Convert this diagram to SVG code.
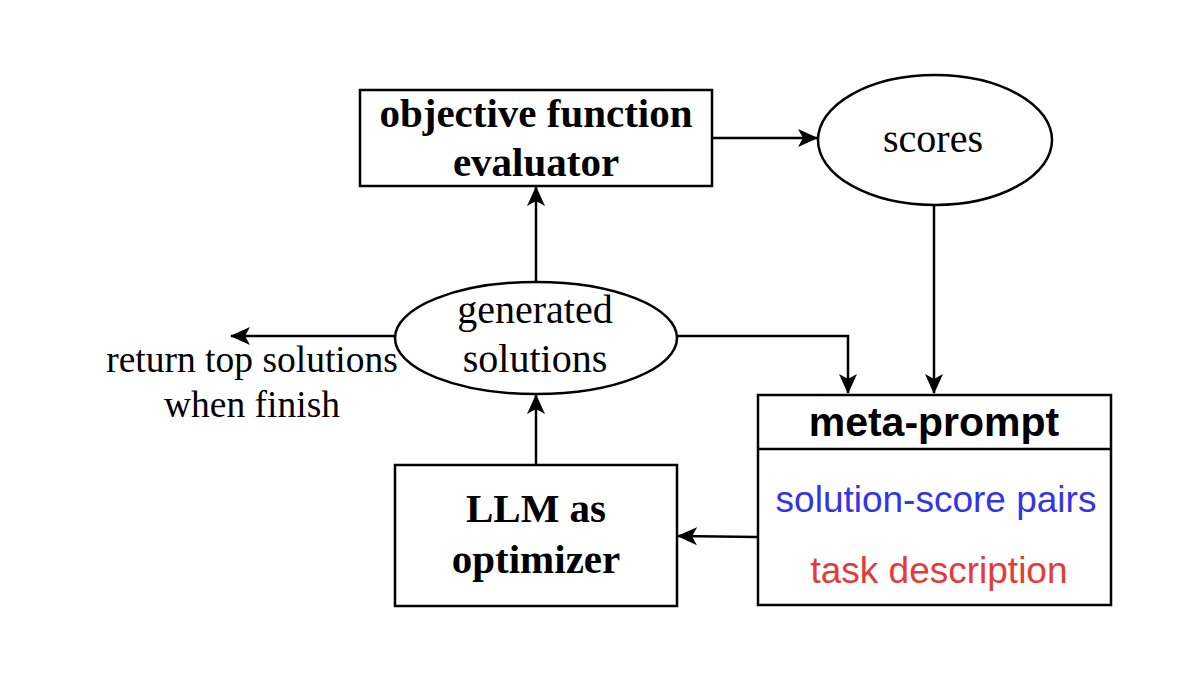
<svg xmlns="http://www.w3.org/2000/svg" width="1200" height="677" viewBox="0 0 1200 677">
<style>
.shape{fill:#fff;stroke:#000;stroke-width:2.5}
.conn{fill:none;stroke:#000;stroke-width:2.5}
.serif{font-family:"Liberation Serif","Times New Roman",serif;fill:#000;text-anchor:middle}
.bold{font-weight:bold}
.sans{font-family:"Liberation Sans",Arial,sans-serif;text-anchor:middle}
</style>
<defs>
<marker id="arr" viewBox="0 0 20 18" refX="19" refY="9" markerWidth="20" markerHeight="18" markerUnits="userSpaceOnUse" orient="auto">
<path d="M0,0 L20,9 L0,18 L5,9 z" fill="#000"/>
</marker>
</defs>
<rect width="1200" height="677" fill="#fff"/>
<g id="connectors">
<path class="conn" d="M712,138 L817,138" marker-end="url(#arr)"/>
<path class="conn" d="M934,206 L934,393" marker-end="url(#arr)"/>
<path class="conn" d="M536,282 L536,187" marker-end="url(#arr)"/>
<path class="conn" d="M677,336 L848,336 L848,393" marker-end="url(#arr)"/>
<path class="conn" d="M395,336 L231,336" marker-end="url(#arr)"/>
<path class="conn" d="M536,465 L536,395" marker-end="url(#arr)"/>
<path class="conn" d="M758,537 L678,536" marker-end="url(#arr)"/>
</g>
<g id="objective">
<rect class="shape" x="360" y="90" width="352" height="96"/>
<text class="serif bold" x="536" y="127" font-size="41">objective function</text>
<text class="serif bold" x="536" y="176" font-size="41">evaluator</text>
</g>
<g id="scores">
<ellipse class="shape" cx="935" cy="140" rx="117" ry="65"/>
<text class="serif" x="933" y="152" font-size="40">scores</text>
</g>
<g id="generated">
<ellipse class="shape" cx="536" cy="338" rx="141" ry="56"/>
<text class="serif" x="535" y="323" font-size="40">generated</text>
<text class="serif" x="535" y="372" font-size="40">solutions</text>
</g>
<g id="return-label">
<text class="serif" x="252" y="372" font-size="37.5">return top solutions</text>
<text class="serif" x="252" y="417" font-size="37.5">when finish</text>
</g>
<g id="llm">
<rect class="shape" x="395" y="465" width="282" height="141"/>
<text class="serif bold" x="536" y="522" font-size="41">LLM as</text>
<text class="serif bold" x="536" y="573" font-size="41">optimizer</text>
</g>
<g id="meta-prompt">
<rect class="shape" x="758" y="395" width="353" height="210"/>
<line class="conn" x1="758" y1="449" x2="1111" y2="449"/>
<text class="sans bold" x="934" y="436" font-size="41" fill="#000">meta-prompt</text>
<text class="sans" x="936" y="512" font-size="37" fill="#3434e4">solution-score pairs</text>
<text class="sans" x="939" y="583" font-size="37" fill="#e43a3a">task description</text>
</g>
</svg>
